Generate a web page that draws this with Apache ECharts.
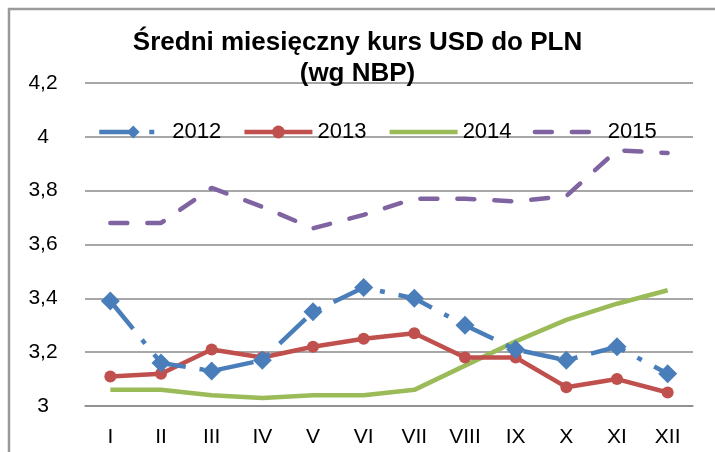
<!DOCTYPE html>
<html>
<head>
<meta charset="utf-8">
<script src="https://cdn.jsdelivr.net/npm/echarts@6/dist/echarts.min.js"></script>
<style>
  html, body { margin: 0; padding: 0; background: #fff; }
  #box { width: 715px; height: 452px; }
</style>
</head>
<body>
<div id="box"></div>
<script>
// miesiące
let months = ['I', 'II', 'III', 'IV', 'V', 'VI', 'VII', 'VIII', 'IX', 'X', 'XI', 'XII'];

// średnie kursy USD/PLN
let kurs2012 = [3.39, 3.16, 3.13, 3.17, 3.35, 3.44, 3.40, 3.30, 3.21, 3.17, 3.22, 3.12];
let kurs2013 = [3.11, 3.12, 3.21, 3.18, 3.22, 3.25, 3.27, 3.18, 3.18, 3.07, 3.10, 3.05];
let kurs2014 = [3.06, 3.06, 3.04, 3.03, 3.04, 3.04, 3.06, 3.15, 3.24, 3.32, 3.38, 3.43];
let kurs2015 = [3.68, 3.68, 3.81, 3.74, 3.66, 3.71, 3.77, 3.77, 3.76, 3.78, 3.95, 3.94];

let fontName = '"Liberation Sans", Arial, sans-serif';
let gridColor = '#8a8a8a';

// style linii - wspólne dla serii i legendy
let line2012 = { color: '#4a7ebb', width: 4.5, type: [36, 14, 5, 14] };
let line2013 = { color: '#c0504d', width: 4.5 };
let line2014 = { color: '#9bbb59', width: 4.5 };
let line2015 = { color: '#8064a2', width: 4.5, type: [17, 20], cap: 'round' };

let titleStyle = {
    fontFamily: fontName,
    fontSize: 26,
    fontWeight: 'bold',
    color: '#000'
};

let chart = echarts.init(document.getElementById('box'));

let option = {
    backgroundColor: '#fff',
    animation: false,
    title: [
        { text: 'Średni miesięczny kurs USD do PLN', left: 'center', top: 30, padding: 0, textStyle: titleStyle },
        { text: '(wg NBP)', left: 'center', top: 61, padding: 0, textStyle: titleStyle }
    ],
    legend: {
        left: 92,
        top: 116,
        itemWidth: 68,
        itemHeight: 16,
        itemGap: 21,
        textStyle: {
            fontFamily: fontName,
            fontSize: 22,
            color: '#000'
        },
        data: [
            { name: '2012', lineStyle: line2012 },
            { name: '2013', lineStyle: line2013 },
            { name: '2014', lineStyle: line2014, itemStyle: { opacity: 0 } },
            { name: '2015', lineStyle: line2015, itemStyle: { opacity: 0 } }
        ]
    },
    grid: {
        left: 85,
        right: 22,
        top: 83,
        bottom: 46
    },
    xAxis: {
        type: 'category',
        data: months,
        boundaryGap: true,
        axisLine: { show: true, lineStyle: { color: gridColor, width: 1.5 } },
        axisTick: { show: false },
        axisLabel: {
            margin: 21,
            fontFamily: fontName,
            fontSize: 21,
            color: '#000'
        }
    },
    yAxis: {
        type: 'value',
        min: 3,
        max: 4.2,
        interval: 0.2,
        axisLine: { show: false },
        axisTick: { show: false },
        splitLine: { lineStyle: { color: gridColor, width: 1.5 } },
        axisLabel: {
            margin: 42,
            align: 'center',
            fontFamily: fontName,
            fontSize: 21,
            color: '#000',
            formatter: function (v) {
                return String(+v.toFixed(1)).replace('.', ',');
            }
        }
    },
    graphic: [{
        type: 'rect',
        shape: { x: 9, y: 9, width: 900, height: 900 },
        style: { fill: 'none', stroke: '#9a9a9a', lineWidth: 2.5 },
        silent: true
    }],
    series: [
        {
            name: '2012',
            type: 'line',
            data: kurs2012,
            symbol: 'diamond',
            symbolSize: 19,
            itemStyle: { color: '#4a7ebb' },
            lineStyle: line2012,
            z: 4
        },
        {
            name: '2013',
            type: 'line',
            data: kurs2013,
            symbol: 'circle',
            symbolSize: 12,
            itemStyle: { color: '#c0504d' },
            lineStyle: line2013,
            z: 3
        },
        {
            name: '2014',
            type: 'line',
            data: kurs2014,
            symbol: 'none',
            itemStyle: { color: '#9bbb59' },
            lineStyle: line2014,
            z: 2
        },
        {
            name: '2015',
            type: 'line',
            data: kurs2015,
            symbol: 'none',
            itemStyle: { color: '#8064a2' },
            lineStyle: line2015,
            z: 2
        }
    ]
};

chart.setOption(option);
</script>
</body>
</html>
